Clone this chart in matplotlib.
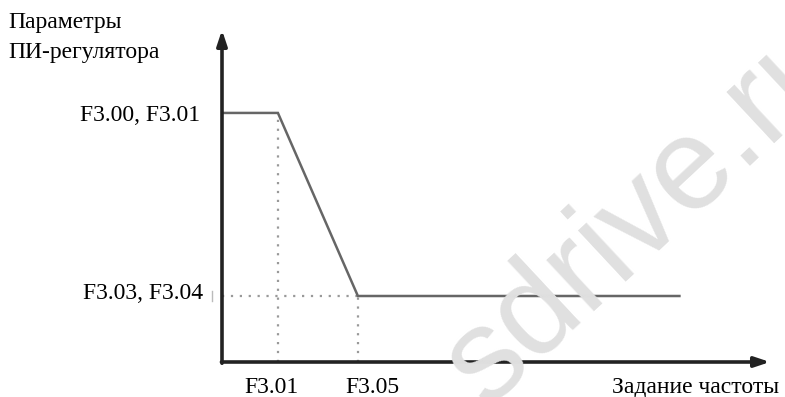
import matplotlib.pyplot as plt

plt.rcParams['font.family'] = ['Liberation Serif', 'DejaVu Serif']

# PI parameters vs frequency reference (schematic)
x_points = [0.0, 1.0, 2.43, 8.18]      # 0, F3.01, F3.05, end of line
y_points = [1.0, 1.0, 0.265, 0.265]    # F3.00/F3.01 level, F3.03/F3.04 level
x_ticks = [1.0, 2.43]
x_tick_labels = ['F3.01', 'F3.05']
y_levels = [1.0, 0.265]
y_level_labels = ['F3.00, F3.01', 'F3.03, F3.04']
x_max = 9.8
y_max = 1.333

FS = 17

fig = plt.figure(figsize=(7.85, 3.97), dpi=100)
ax = fig.add_axes([222 / 785, 35 / 397, 548 / 785, 332 / 397])
ax.set_xlim(0, x_max)
ax.set_ylim(0, y_max)
ax.axis('off')

# watermark
fig.text(487 / 785, 1 - 408 / 397, 'sdrive.ru', family='Liberation Sans',
         fontsize=94, color='#e0e0e0', rotation=43, rotation_mode='anchor',
         ha='left', va='baseline', zorder=0)

# axes with arrows
ax.annotate('', xy=(x_max, 0), xytext=(-0.01, 0),
            arrowprops=dict(arrowstyle='-|>,head_length=0.9,head_width=0.3',
                            color='#222222', lw=2.6, shrinkA=0, shrinkB=0),
            annotation_clip=False)
ax.annotate('', xy=(0, y_max), xytext=(0, -0.005),
            arrowprops=dict(arrowstyle='-|>,head_length=0.9,head_width=0.3',
                            color='#222222', lw=2.6, shrinkA=0, shrinkB=0),
            annotation_clip=False)

# guide lines
ax.plot([x_ticks[0], x_ticks[0]], [0, y_points[1]], linestyle=(0, (1, 3)),
        color='#999999', lw=1.6)
ax.plot([x_ticks[1], x_ticks[1]], [0, y_points[2]], linestyle=(0, (1, 3)),
        color='#999999', lw=1.6)
ax.plot([0, x_ticks[1]], [y_levels[1], y_levels[1]], linestyle=(0, (1, 3)),
        color='#999999', lw=1.6)

# characteristic
ax.plot(x_points, y_points, color='#666666', lw=1.8, solid_joinstyle='miter')

# small mark left of the lower level
ax.plot([-0.18, -0.18], [y_levels[1] - 0.02, y_levels[1] + 0.02],
        color='#bbbbbb', lw=1, clip_on=False)

# labels
ax.text(-0.39, 0.968, y_level_labels[0], ha='right', va='baseline',
        fontsize=FS, clip_on=False)
ax.text(-0.34, 0.253, y_level_labels[1], ha='right', va='baseline',
        fontsize=FS, clip_on=False)
ax.text(x_ticks[0] - 0.11, -0.124, x_tick_labels[0], ha='center',
        va='baseline', fontsize=FS, clip_on=False)
ax.text(x_ticks[1] - 0.23, -0.124, x_tick_labels[1], ha='left',
        va='baseline', fontsize=FS, clip_on=False)
fig.text(612 / 785, 1 - 393 / 397, 'Задание частоты', ha='left',
         va='baseline', fontsize=FS)
fig.text(8 / 785, 1 - 28 / 397, 'Параметры', ha='left', va='baseline',
         fontsize=FS)
fig.text(8 / 785, 1 - 58 / 397, 'ПИ-регулятора', ha='left', va='baseline',
         fontsize=FS)

fig.savefig('out.png', dpi=100)
